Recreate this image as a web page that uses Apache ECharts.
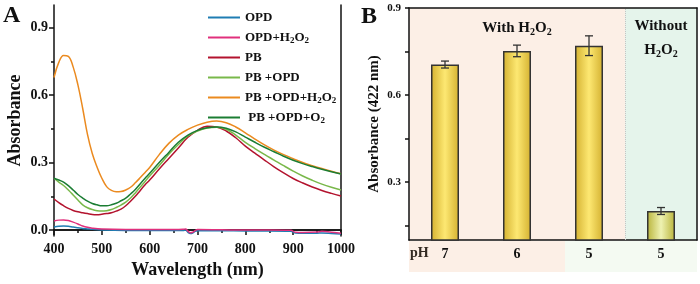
<!DOCTYPE html>
<html>
<head>
<meta charset="utf-8">
<script src="https://cdn.jsdelivr.net/npm/echarts@6/dist/echarts.min.js"></script>
<style>
html, body { margin: 0; padding: 0; background: #fff; }
#chart { width: 700px; height: 284px; }
</style>
</head>
<body>
<div id="chart"></div>
<script>
// ---- panel A : UV-vis spectra ----
const wl = [400, 410, 420, 430, 440, 450, 460, 470, 480, 490, 500, 510, 520, 530, 540, 550, 560, 570, 580, 590,
    600, 620, 640, 660, 680, 700, 720, 740, 760, 780, 800, 820, 840, 860, 880, 900, 920, 940, 960, 980, 1000];
const pb = [0.138, 0.122, 0.108, 0.096, 0.087, 0.081, 0.077, 0.073, 0.069, 0.068, 0.070, 0.073, 0.077, 0.084, 0.093, 0.108, 0.128, 0.150, 0.175, 0.200,
    0.222, 0.271, 0.318, 0.365, 0.412, 0.443, 0.461, 0.458, 0.440, 0.410, 0.373, 0.342, 0.311, 0.281, 0.254, 0.229, 0.209, 0.191, 0.176, 0.163, 0.151];
const pbOpd = [0.230, 0.213, 0.198, 0.178, 0.156, 0.133, 0.112, 0.099, 0.091, 0.086, 0.084, 0.086, 0.091, 0.100, 0.111, 0.124, 0.142, 0.165, 0.190, 0.215,
    0.240, 0.287, 0.337, 0.380, 0.418, 0.440, 0.453, 0.457, 0.448, 0.422, 0.390, 0.362, 0.336, 0.311, 0.286, 0.262, 0.240, 0.221, 0.204, 0.190, 0.178];
const pbOpdH2o2 = [0.678, 0.745, 0.776, 0.772, 0.725, 0.645, 0.540, 0.425, 0.340, 0.280, 0.230, 0.193, 0.176, 0.170, 0.171, 0.178, 0.190, 0.210, 0.232, 0.255,
    0.278, 0.335, 0.385, 0.422, 0.447, 0.466, 0.479, 0.484, 0.477, 0.458, 0.432, 0.404, 0.378, 0.355, 0.335, 0.317, 0.300, 0.286, 0.273, 0.261, 0.250];
const pbOpdO2 = [0.230, 0.222, 0.213, 0.197, 0.178, 0.158, 0.142, 0.128, 0.118, 0.112, 0.108, 0.108, 0.112, 0.119, 0.130, 0.142, 0.160, 0.180, 0.205, 0.229,
    0.252, 0.300, 0.345, 0.390, 0.422, 0.443, 0.455, 0.458, 0.452, 0.436, 0.413, 0.390, 0.368, 0.348, 0.328, 0.310, 0.295, 0.282, 0.270, 0.259, 0.249];

const wlLow = [400, 410, 420, 430, 440, 450, 460, 470, 480, 500, 550, 600, 650, 670, 675, 680, 685, 690, 695, 700, 750, 800, 850, 895, 905, 920, 950, 960, 980, 1000];
const opd = [0.013, 0.017, 0.018, 0.017, 0.013, 0.010, 0.007, 0.005, 0.003, 0.000, -0.002, -0.002, -0.002, -0.002, 0.000, -0.010, -0.015, -0.013, -0.006, -0.003, -0.003, -0.004, -0.004, -0.005, -0.013, -0.014, -0.014, -0.013, -0.015, -0.018];
const opdH2o2 = [0.040, 0.044, 0.045, 0.042, 0.035, 0.027, 0.018, 0.012, 0.008, 0.004, 0.002, 0.002, 0.002, 0.003, 0.005, -0.005, -0.012, -0.010, -0.003, 0.002, 0.001, 0.000, 0.000, -0.001, -0.010, -0.011, -0.009, -0.006, -0.010, -0.014];

const specNames = ['OPD', 'OPD+H2O2', 'PB', 'PB +OPD', 'PB +OPD+H2O2', ' PB +OPD+O2'];
const specColors = ['#1f7db3', '#e0307c', '#b3132e', '#79b84a', '#eb8a1f', '#1b7d33'];

// ---- panel B : absorbance at 422 nm ----
const phLabels = ['7', '6', '5', '5'];
const abs422 = [0.705, 0.752, 0.770, 0.200];
const abs422Err = [0.012, 0.020, 0.034, 0.012];

const serif = 'Liberation Serif';
const ink = '#111';

function pairs(xs, ys) {
    return xs.map((x, i) => [x, ys[i]]);
}
function sub(txt) {
    // H2O2 / O2 -> subscripted 2
    return txt.replace(/2/g, '{s|2}');
}

const specData = [
    pairs(wlLow, opd),
    pairs(wlLow, opdH2o2),
    pairs(wl, pb),
    pairs(wl, pbOpd),
    pairs(wl, pbOpdH2o2),
    pairs(wl, pbOpdO2)
];

const lineSeries = specNames.map((n, i) => ({
    name: n,
    type: 'line',
    xAxisIndex: 0,
    yAxisIndex: 0,
    data: specData[i],
    smooth: 0.4,
    symbol: 'none',
    lineStyle: { color: specColors[i], width: 1.5 },
    itemStyle: { color: specColors[i] },
    z: 3
}));

function barGradient(edge, mid) {
    return new echarts.graphic.LinearGradient(0, 0, 1, 0, [
        { offset: 0, color: edge },
        { offset: 0.5, color: mid },
        { offset: 1, color: edge }
    ]);
}

const barData = abs422.map((v, i) => ({
    value: v,
    itemStyle: {
        color: i < 3 ? barGradient('#d4b130', '#fde872') : barGradient('#b9b43a', '#eef2b2')
    }
}));

const errData = abs422.map((v, i) => [i, v - abs422Err[i], v + abs422Err[i]]);

const tickLine = { color: ink, width: 1.5 };
const lblA = { color: ink, fontFamily: serif, fontWeight: 'bold', fontSize: 14 };
const lblB = { color: ink, fontFamily: serif, fontWeight: 'bold', fontSize: 11 };

const option = {
    animation: false,
    backgroundColor: '#fff',
    textStyle: { fontFamily: serif },
    grid: [
        { left: 54, right: 359, top: 5, bottom: 47 },
        { left: 409, right: 3, top: 8, bottom: 44 }
    ],
    legend: {
        left: 203,
        top: 5,
        orient: 'vertical',
        icon: 'rect',
        itemWidth: 32,
        itemHeight: 2,
        itemGap: 5,
        data: specNames,
        textStyle: {
            color: ink, fontFamily: serif, fontWeight: 'bold', fontSize: 13, lineHeight: 15,
            rich: {
                s: { fontFamily: serif, fontWeight: 'bold', fontSize: 9, lineHeight: 15, padding: [6, 0, 0, 0] }
            }
        },
        formatter: n => sub(n)
    },
    xAxis: [
        {
            gridIndex: 0, type: 'value', min: 400, max: 1000, interval: 100,
            name: 'Wavelength (nm)', nameLocation: 'middle', nameGap: 24,
            nameTextStyle: { color: ink, fontFamily: serif, fontWeight: 'bold', fontSize: 18 },
            axisLine: { show: true, lineStyle: tickLine },
            axisTick: { show: true, inside: false, length: 5, lineStyle: tickLine },
            minorTick: { show: true, splitNumber: 2, length: 3, lineStyle: tickLine },
            axisLabel: Object.assign({ margin: 6, formatter: v => String(v) }, lblA),
            splitLine: { show: false }
        },
        {
            gridIndex: 0, type: 'value', position: 'top', min: 400, max: 1000,
            axisLine: { show: true, lineStyle: tickLine },
            axisTick: { show: false }, axisLabel: { show: false }, splitLine: { show: false }
        },
        {
            gridIndex: 1, type: 'category', data: phLabels,
            axisLine: { show: true, lineStyle: tickLine },
            axisTick: { show: false },
            axisLabel: Object.assign({}, lblB, { fontSize: 14, margin: 7 }),
            splitLine: { show: false }
        },
        {
            // helper axis for the shaded regions, also draws the top frame
            gridIndex: 1, type: 'value', position: 'top', min: 0, max: 4,
            axisLine: { show: true, onZero: false, lineStyle: tickLine },
            axisTick: { show: false }, axisLabel: { show: false }, splitLine: { show: false }
        }
    ],
    yAxis: [
        {
            gridIndex: 0, type: 'value', position: 'left', min: -0.027, max: 1.0,
            name: 'Absorbance', nameLocation: 'middle', nameGap: 30,
            nameTextStyle: { color: ink, fontFamily: serif, fontWeight: 'bold', fontSize: 18 },
            axisLine: { show: true, onZero: false, lineStyle: tickLine },
            axisTick: { show: true, inside: false, length: 5, lineStyle: tickLine, customValues: [0, 0.3, 0.6, 0.9] },
            axisLabel: Object.assign({ margin: 6, customValues: [0, 0.3, 0.6, 0.9], formatter: v => v.toFixed(1) }, lblA),
            splitLine: { show: false }
        },
        {
            // minor ticks
            gridIndex: 0, type: 'value', position: 'left', min: -0.027, max: 1.0,
            axisLine: { show: false },
            axisTick: { show: true, inside: false, length: 3, lineStyle: tickLine, customValues: [0.15, 0.45, 0.75] },
            axisLabel: { show: false }, splitLine: { show: false }
        },
        {
            gridIndex: 0, type: 'value', position: 'right', min: -0.027, max: 1.0,
            axisLine: { show: true, onZero: false, lineStyle: tickLine },
            axisTick: { show: false }, axisLabel: { show: false }, splitLine: { show: false }
        },
        {
            gridIndex: 1, type: 'value', position: 'left', min: 0.1, max: 0.9,
            name: 'Absorbance (422 nm)', nameLocation: 'middle', nameGap: 27,
            nameTextStyle: { color: ink, fontFamily: serif, fontWeight: 'bold', fontSize: 15 },
            axisLine: { show: true, onZero: false, lineStyle: tickLine },
            axisTick: { show: true, inside: false, length: 4, lineStyle: tickLine, customValues: [0.15, 0.3, 0.45, 0.6, 0.75, 0.9] },
            axisLabel: Object.assign({ margin: 8, customValues: [0.3, 0.6, 0.9], formatter: v => v.toFixed(1) }, lblB),
            splitLine: { show: false }
        },
        {
            gridIndex: 1, type: 'value', position: 'right', min: 0.1, max: 0.9,
            axisLine: { show: true, onZero: false, lineStyle: tickLine },
            axisTick: { show: false }, axisLabel: { show: false }, splitLine: { show: false }
        }
    ],
    series: lineSeries.concat([
        {
            // shaded "with / without H2O2" regions
            type: 'line',
            xAxisIndex: 3,
            yAxisIndex: 3,
            data: [],
            silent: true,
            markArea: {
                silent: true,
                z: 0,
                label: {
                    position: 'insideTop',
                    color: ink,
                    fontFamily: serif,
                    fontWeight: 'bold',
                    fontSize: 15,
                    lineHeight: 24,
                    rich: { s: { fontFamily: serif, fontWeight: 'bold', fontSize: 10, padding: [8, 0, 0, 0] } }
                },
                data: [
                    [{ xAxis: 0, itemStyle: { color: '#fcefe6' }, label: { formatter: sub('With H2O2'), distance: 8 } }, { xAxis: 3 }],
                    [{ xAxis: 3, itemStyle: { color: '#e5f4eb' }, label: { formatter: 'Without\n' + sub('H2O2'), distance: 6 } }, { xAxis: 4 }]
                ]
            },
            markLine: {
                silent: true,
                symbol: 'none',
                label: { show: false },
                lineStyle: { color: '#c4c4c4', type: 'dotted', width: 1 },
                data: [{ xAxis: 3 }]
            }
        },
        {
            type: 'bar',
            xAxisIndex: 2,
            yAxisIndex: 3,
            data: barData,
            barWidth: 28,
            itemStyle: { borderColor: '#333', borderWidth: 1.5 },
            z: 3
        },
        {
            type: 'custom',
            xAxisIndex: 2,
            yAxisIndex: 3,
            data: errData,
            z: 4,
            renderItem: function (params, api) {
                const lo = api.coord([api.value(0), api.value(1)]);
                const hi = api.coord([api.value(0), api.value(2)]);
                const w = 4;
                const st = { stroke: '#333', lineWidth: 1.3 };
                return {
                    type: 'group',
                    children: [
                        { type: 'line', shape: { x1: lo[0], y1: lo[1], x2: hi[0], y2: hi[1] }, style: st },
                        { type: 'line', shape: { x1: lo[0] - w, y1: lo[1], x2: lo[0] + w, y2: lo[1] }, style: st },
                        { type: 'line', shape: { x1: hi[0] - w, y1: hi[1], x2: hi[0] + w, y2: hi[1] }, style: st }
                    ]
                };
            }
        }
    ]),
    graphic: [
        { type: 'text', left: 3, top: 4, z: 10, style: { text: 'A', fill: ink, font: 'bold 24px "Liberation Serif"' } },
        { type: 'text', left: 361, top: 5, z: 10, style: { text: 'B', fill: ink, font: 'bold 24px "Liberation Serif"' } },
        // pH strip under panel B
        { type: 'rect', left: 409, top: 241, z: -10, shape: { width: 156, height: 31 }, style: { fill: '#fcefe6' } },
        { type: 'rect', left: 565, top: 241, z: -10, shape: { width: 132, height: 31 }, style: { fill: '#f4faf2' } },
        { type: 'text', left: 410, top: 246, z: 10, style: { text: 'pH', fill: '#332a22', font: 'bold 14px "Liberation Serif"' } }
    ]
};

const chart = echarts.init(document.getElementById('chart'));
chart.setOption(option);
</script>
</body>
</html>
